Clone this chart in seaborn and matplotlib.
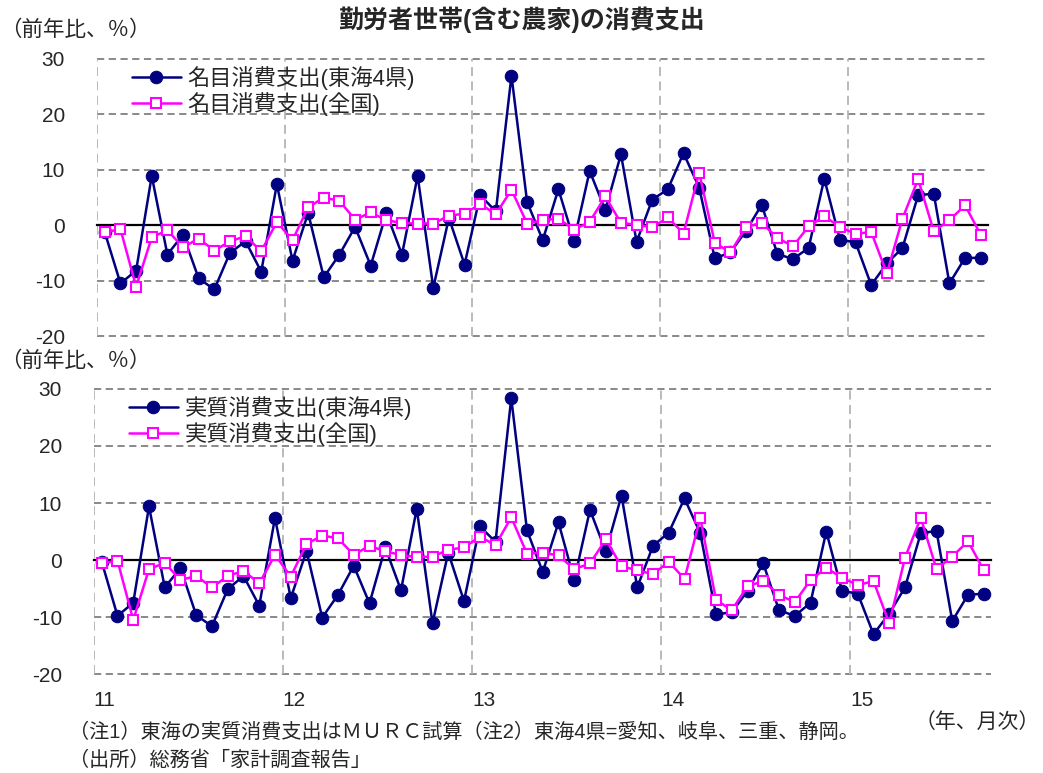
import numpy as np
import pandas as pd
import matplotlib
matplotlib.use("Agg")
import matplotlib.pyplot as plt
import seaborn as sns

# ---- data ----
months = pd.date_range("2011-01-01", periods=57, freq="MS")
year_labels = ["11", "12", "13", "14", "15"]

nom_tokai = [-1.3, -10.5, -8.2, 8.9, -5.3, -1.7, -9.6, -11.6, -5.0, -2.9,
             -8.4, 7.4, -6.4, 2.2, -9.4, -5.3, -0.3, -7.3, 2.2, -5.3,
             8.9, -11.3, 1.3, -7.1, 5.4, 2.5, 27.0, 4.2, -2.7, 6.5,
             -2.8, 9.8, 2.7, 12.8, -3.0, 4.6, 6.5, 13.0, 6.8, -6.0,
             -4.9, -1.0, 3.7, -5.2, -6.1, -4.1, 8.4, -2.6, -3.1, -10.8,
             -6.9, -4.1, 5.4, 5.7, -10.5, -5.9, -5.9]
nom_zenkoku = [-1.3, -0.7, -11.1, -2.2, -0.9, -4.0, -2.4, -4.6, -2.9, -2.0,
               -4.7, 0.6, -2.7, 3.2, 5.0, 4.4, 1.0, 2.3, 0.9, 0.4,
               0.3, 0.3, 1.7, 2.1, 3.8, 2.0, 6.4, 0.3, 0.9, 1.2,
               -0.8, 0.6, 5.2, 0.4, 0.1, -0.4, 1.4, -1.5, 9.5, -3.2,
               -4.9, -0.3, 0.4, -2.3, -3.8, -0.2, 1.6, -0.3, -1.6, -1.2,
               -8.7, 1.2, 8.3, -1.1, 0.9, 3.6, -1.7]
real_tokai = [-0.3, -9.8, -7.5, 9.4, -4.8, -1.4, -9.7, -11.6, -5.1, -2.8,
              -8.0, 7.4, -6.7, 1.6, -10.1, -6.1, -1.0, -7.6, 2.2, -5.3,
              9.0, -11.1, 1.3, -7.2, 5.9, 3.2, 28.4, 5.2, -2.1, 6.6,
              -3.5, 8.8, 1.5, 11.3, -4.8, 2.5, 4.8, 10.8, 4.7, -9.5,
              -9.2, -5.4, -0.6, -8.8, -9.8, -7.5, 5.0, -5.4, -5.9, -13.0,
              -9.4, -4.8, 4.7, 5.1, -10.7, -6.1, -5.9]
real_zenkoku = [-0.6, -0.1, -10.5, -1.6, -0.5, -3.5, -2.8, -4.8, -2.8, -1.9,
                -4.1, 0.9, -2.9, 2.8, 4.3, 3.8, 0.9, 2.5, 1.5, 0.9,
                0.5, 0.6, 1.8, 2.2, 4.1, 2.6, 7.5, 1.1, 1.3, 0.8,
                -1.6, -0.6, 3.6, -1.1, -1.8, -2.5, -0.3, -3.3, 7.4, -7.0,
                -8.8, -4.6, -3.7, -6.1, -7.4, -3.5, -1.4, -3.1, -4.4, -3.7,
                -11.1, 0.4, 7.4, -1.6, 0.6, 3.3, -1.8]

labels_top = ["名目消費支出(東海4県)", "名目消費支出(全国)"]
labels_bot = ["実質消費支出(東海4県)", "実質消費支出(全国)"]
yticks = [30, 20, 10, 0, -10, -20]

# ---- style ----
sns.set_style("white")
plt.rcParams["font.family"] = ["Liberation Sans", "Noto Sans CJK JP"]

NAVY = "#000080"
MAGENTA = "#FF00FF"

pos = np.arange(len(months))
df = pd.DataFrame({"pos": pos, "nom_tokai": nom_tokai, "nom_zenkoku": nom_zenkoku,
                   "real_tokai": real_tokai, "real_zenkoku": real_zenkoku})
year_start = [p - 0.5 for p, m in zip(pos, months) if m.month == 1]

fig = plt.figure(figsize=(10.43, 7.73), dpi=100)
ax1 = fig.add_axes([0.093, 0.5653, 0.854, 0.3584])
ax2 = fig.add_axes([0.090, 0.128, 0.860, 0.3688])


def draw(ax, c1, c2, labs, legend_y):
    sns.lineplot(data=df, x="pos", y=c1, ax=ax, color=NAVY, lw=1.8,
                 marker="o", markersize=9, markeredgecolor=NAVY,
                 label=labs[0], zorder=3)
    sns.lineplot(data=df, x="pos", y=c2, ax=ax, color=MAGENTA, lw=1.8,
                 marker="s", markersize=6.5, markerfacecolor="white",
                 markeredgecolor=MAGENTA, markeredgewidth=1.5,
                 label=labs[1], zorder=4)
    ax.set_xlim(-0.5, 56.45)
    ax.set_ylim(-20, 30)
    ax.set_xlabel("")
    ax.set_ylabel("")
    ax.set_yticks(yticks)
    ax.set_yticklabels([str(v) for v in yticks], fontsize=15)
    ax.tick_params(axis="y", length=0, pad=23)
    for v in yticks:
        if v != 0:
            ax.axhline(v, color="#808080", lw=1.3, ls=(0, (4, 2.5)), zorder=1,
                       clip_on=False)
    for xv in year_start:
        ax.axvline(xv, color="#b4b4b4", lw=1.3, ls=(0, (5, 3)), zorder=1)
    for s in ["top", "right", "left"]:
        ax.spines[s].set_visible(False)
    ax.spines["bottom"].set_position(("data", 0))
    ax.spines["bottom"].set_color("black")
    ax.spines["bottom"].set_linewidth(1.6)
    ax.spines["bottom"].set_zorder(2)
    ax.set_xticks(year_start)
    ax.tick_params(axis="x", direction="in", length=5, width=1.2,
                   labelbottom=False, color="black")
    ax.legend(loc="upper left", bbox_to_anchor=(0.039, legend_y),
              frameon=False, fontsize=16, handlelength=2.2,
              handletextpad=0.3, labelspacing=0.1, borderpad=0,
              borderaxespad=0)


draw(ax1, "nom_tokai", "nom_zenkoku", labels_top, 0.975)
draw(ax2, "real_tokai", "real_zenkoku", labels_bot, 0.975)

sec = ax2.secondary_xaxis(0)
sec.set_xticks(year_start)
sec.set_xticklabels(year_labels, fontsize=15, ha="left")
sec.tick_params(length=0, pad=12)
sec.spines["bottom"].set_visible(False)

fig.text(0.5, 0.974, "勤労者世帯(含む農家)の消費支出", ha="center", va="center",
         fontsize=18, fontweight="bold")
fig.text(0.0, 0.961, "（前年比、％）", ha="left", va="center", fontsize=15.5)
fig.text(0.0, 0.532, "（前年比、％）", ha="left", va="center", fontsize=15.5)
fig.text(0.066, 0.052, "（注1）東海の実質消費支出はＭＵＲＣ試算（注2）東海4県=愛知、岐阜、三重、静岡。",
         ha="left", va="center", fontsize=14.5)
fig.text(0.066, 0.017, "（出所）総務省「家計調査報告」", ha="left", va="center", fontsize=14.5)
fig.text(0.997, 0.066, "（年、月次）", ha="right", va="center", fontsize=15)

fig.savefig("out.png", dpi=100)
